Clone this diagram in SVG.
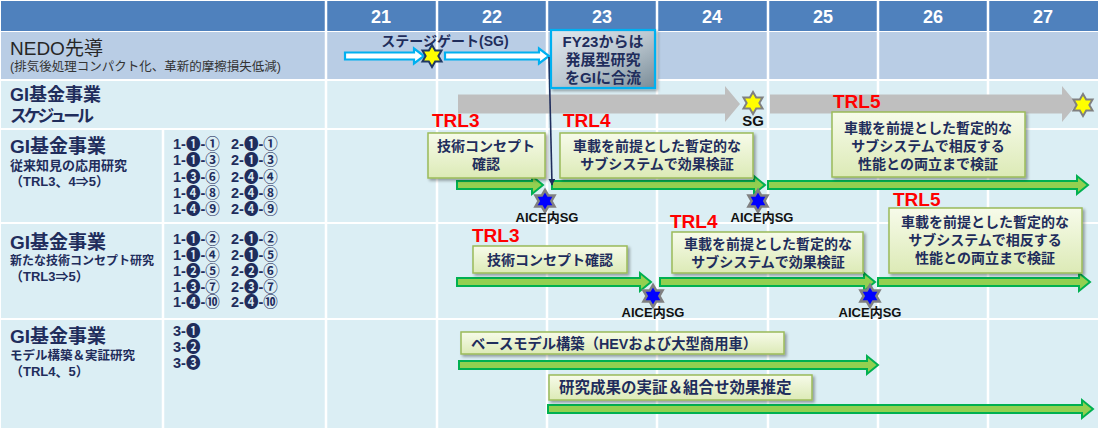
<svg xmlns="http://www.w3.org/2000/svg" xmlns:xlink="http://www.w3.org/1999/xlink" width="1099" height="429" viewBox="0 0 1099 429">
<style>
.jp{font-family:'Liberation Sans','Noto Sans CJK JP',sans-serif}
.hdr{font-family:'Liberation Sans',sans-serif;font-weight:bold;font-size:18px;fill:#fff;text-anchor:middle}
.nv{fill:#1F2D5C;font-weight:bold}
.trl{font-family:'Liberation Sans',sans-serif;font-weight:bold;font-size:19px;fill:#FF0000}
.gbox{fill:url(#gg);stroke:#9BBB59;stroke-width:1.5;filter:url(#sh)}
.bt{font-family:'Liberation Sans','Noto Sans CJK JP',sans-serif;font-weight:bold;font-size:14px;fill:#1F2D5C;text-anchor:middle}
.bl{font-family:'Liberation Sans','Noto Sans CJK JP',sans-serif;font-weight:bold;fill:#1F2D5C}
.garrow{fill:#92D050;stroke:#00B050;stroke-width:2}
.barrow{fill:#fff;stroke:#00B0F0;stroke-width:2.2}
.grey{fill:#BFBFBF}
.aice{font-family:'Liberation Sans','Noto Sans CJK JP',sans-serif;font-weight:bold;font-size:13px;fill:#111;text-anchor:middle}
.ys{fill:#FFFF00;stroke:#808080;stroke-width:2}
.bs{fill:#0000FF;stroke:#808080;stroke-width:2.5}
.code{font-family:'Liberation Sans','Noto Sans CJK JP',sans-serif;font-weight:bold;font-size:14.5px;fill:#1F2D5C}
.grid{stroke:#fff;stroke-width:2.5}
</style>
<defs>
<path id="star" d="M0,-11 L3.18,-5.5 L9.53,-5.5 L6.35,0 L9.53,5.5 L3.18,5.5 L0,11 L-3.18,5.5 L-9.53,5.5 L-6.35,0 L-9.53,-5.5 L-3.18,-5.5 Z"/>
<linearGradient id="gg" x1="0" y1="0" x2="0" y2="1">
<stop offset="0" stop-color="#F7FBEA"/>
<stop offset="1" stop-color="#DCEAB6"/>
</linearGradient>
<linearGradient id="fy" x1="0" y1="0" x2="1" y2="1">
<stop offset="0" stop-color="#E2EAF0"/>
<stop offset="0.5" stop-color="#BCC8D1"/>
<stop offset="1" stop-color="#7A8C97"/>
</linearGradient>
<filter id="sh" x="-10%" y="-20%" width="130%" height="160%">
<feDropShadow dx="2" dy="2" stdDeviation="1.5" flood-color="#000" flood-opacity="0.35"/>
</filter>
<marker id="ah" viewBox="0 0 10 10" refX="9" refY="5" markerWidth="7" markerHeight="7" orient="auto" markerUnits="userSpaceOnUse">
<path d="M0,0 L10,5 L0,10 Z" fill="#1F2D5C"/>
</marker>
</defs>

<g id="table">
<rect x="0" y="0" width="1099" height="429" fill="#fff"/>
<rect x="1" y="1" width="1097" height="30" fill="#4F81BD"/>
<rect x="1" y="32" width="1097" height="47" fill="#B9CDE5"/>
<rect x="1" y="81" width="1097" height="47" fill="#DBEEF4"/>
<rect x="1" y="130" width="1097" height="92" fill="#DBEEF4"/>
<rect x="1" y="224" width="1097" height="94" fill="#DBEEF4"/>
<rect x="1" y="320" width="1097" height="108" fill="#DBEEF4"/>
<g class="grid">
<line x1="326" y1="0" x2="326" y2="429"/>
<line x1="437" y1="0" x2="437" y2="429"/>
<line x1="547" y1="0" x2="547" y2="429"/>
<line x1="657" y1="0" x2="657" y2="429"/>
<line x1="768" y1="0" x2="768" y2="429"/>
<line x1="878" y1="0" x2="878" y2="429"/>
<line x1="988" y1="0" x2="988" y2="429"/>
<line x1="163" y1="129" x2="163" y2="429"/>
</g>
<text class="hdr" x="381" y="23">21</text>
<text class="hdr" x="492" y="23">22</text>
<text class="hdr" x="602" y="23">23</text>
<text class="hdr" x="712" y="23">24</text>
<text class="hdr" x="823" y="23">25</text>
<text class="hdr" x="933" y="23">26</text>
<text class="hdr" x="1043" y="23">27</text>
</g>

<g id="row-labels">
<text class="jp" x="10" y="55" font-size="19" fill="#262626">NEDO先導</text>
<text class="jp" x="10" y="71" font-size="12.5" fill="#333">(排気後処理コンパクト化、革新的摩擦損失低減)</text>
<text class="jp nv" x="10" y="101" font-size="18">GI基金事業</text>
<text class="jp nv" x="10" y="122" font-size="17" textLength="84" lengthAdjust="spacing">スケジュール</text>
<text class="jp nv" x="10" y="153" font-size="19">GI基金事業</text>
<text class="jp nv" x="10" y="170" font-size="13">従来知見の応用研究</text>
<text class="jp nv" x="10" y="186" font-size="13">（TRL3、4⇒5）</text>
<text class="jp nv" x="10" y="249" font-size="19">GI基金事業</text>
<text class="jp nv" x="10" y="265" font-size="12">新たな技術コンセプト研究</text>
<text class="jp nv" x="10" y="281" font-size="13">（TRL3⇒5）</text>
<text class="jp nv" x="10" y="343" font-size="19">GI基金事業</text>
<text class="jp nv" x="10" y="360" font-size="12.5">モデル構築＆実証研究</text>
<text class="jp nv" x="10" y="376" font-size="13">（TRL4、5）</text>
</g>

<g id="codes">
<text class="code"><tspan x="173" y="149">1-❶-①</tspan><tspan x="231" y="149">2-❶-①</tspan></text>
<text class="code"><tspan x="173" y="165">1-❶-③</tspan><tspan x="231" y="165">2-❶-③</tspan></text>
<text class="code"><tspan x="173" y="182">1-❸-⑥</tspan><tspan x="231" y="182">2-❹-④</tspan></text>
<text class="code"><tspan x="173" y="198">1-❹-⑧</tspan><tspan x="231" y="198">2-❹-⑧</tspan></text>
<text class="code"><tspan x="173" y="214">1-❹-⑨</tspan><tspan x="231" y="214">2-❹-⑨</tspan></text>
<text class="code"><tspan x="173" y="244">1-❶-②</tspan><tspan x="231" y="244">2-❶-②</tspan></text>
<text class="code"><tspan x="173" y="260">1-❶-④</tspan><tspan x="231" y="260">2-❶-⑤</tspan></text>
<text class="code"><tspan x="173" y="276">1-❷-⑤</tspan><tspan x="231" y="276">2-❷-⑥</tspan></text>
<text class="code"><tspan x="173" y="292">1-❸-⑦</tspan><tspan x="231" y="292">2-❸-⑦</tspan></text>
<text class="code"><tspan x="173" y="307">1-❹-⑩</tspan><tspan x="231" y="307">2-❹-⑩</tspan></text>
<text class="code" x="173" y="336">3-❶</text>
<text class="code" x="173" y="352">3-❷</text>
<text class="code" x="173" y="368">3-❸</text>
</g>

<g id="connectors">
<path class="barrow" d="M345,52.5 H414 V48.5 L424,56 L414,63.5 V59.5 H345 Z"/>
<path class="barrow" d="M445,52.5 H539 V48.5 L549,56 L539,63.5 V59.5 H445 Z"/>
<path class="grey" d="M458,94.5 H725 V86 L740,104 L725,122 V113.5 H458 Z"/>
<path class="grey" d="M770,94.5 H1062 V86 L1077,104 L1062,122 V113.5 H770 Z"/>
<path class="garrow" d="M457,181 H532 V176 L543,185 L532,194 V189 H457 Z"/>
<path class="garrow" d="M552,181 H754 V176 L765,185 L754,194 V189 H552 Z"/>
<path class="garrow" d="M768,181 H1077 V176 L1088,185 L1077,194 V189 H768 Z"/>
<path class="garrow" d="M457,278 H640 V273 L651,282 L640,291 V286 H457 Z"/>
<path class="garrow" d="M660,278 H864 V273 L875,282 L864,291 V286 H660 Z"/>
<path class="garrow" d="M878,278 H1079 V273 L1090,282 L1079,291 V286 H878 Z"/>
<path class="garrow" d="M459,361 H867 V356 L878,365 L867,374 V369 H459 Z"/>
<path class="garrow" d="M548,405 H1082 V400 L1093,409 L1082,418 V413 H548 Z"/>
<line x1="549" y1="57" x2="552" y2="185" stroke="#1F2D5C" stroke-width="1.6" marker-end="url(#ah)"/>
</g>

<g id="nedo-sg">
<text class="jp nv" x="445" y="46" font-size="14" text-anchor="middle">ステージゲート(SG)</text>
<use href="#star" x="432" y="56" fill="#FFFF00" stroke="#1F3864" stroke-width="2"/>
</g>

<g id="fy23-note">
<rect x="551" y="30" width="104" height="58" fill="url(#fy)" stroke="#00B0F0" stroke-width="2.2" filter="url(#sh)"/>
<text class="jp nv" x="603" y="47" font-size="15" text-anchor="middle">FY23からは</text>
<text class="jp nv" x="603" y="65" font-size="15" text-anchor="middle">発展型研究</text>
<text class="jp nv" x="603" y="83" font-size="15" text-anchor="middle">をGIに合流</text>
</g>

<g id="schedule-sg">
<use href="#star" x="753" y="103" class="ys"/>
<text class="jp" x="753" y="126" font-size="15" font-weight="bold" fill="#111" text-anchor="middle">SG</text>
<use href="#star" x="1083" y="105" class="ys"/>
</g>

<g id="r3-trl3">
<text class="trl" x="432" y="127">TRL3</text>
<rect class="gbox" x="428" y="133" width="117" height="45"/>
<text class="bt" x="486" y="151">技術コンセプト</text>
<text class="bt" x="486" y="169">確認</text>
</g>
<g id="r3-trl4">
<text class="trl" x="563" y="127">TRL4</text>
<rect class="gbox" x="560" y="133" width="193" height="45"/>
<text class="bt" x="657" y="151">車載を前提とした暫定的な</text>
<text class="bt" x="657" y="169">サブシステムで効果検証</text>
</g>
<g id="r3-trl5">
<text class="trl" x="833" y="108">TRL5</text>
<rect class="gbox" x="832" y="112" width="193" height="65"/>
<text class="bt" x="928" y="133">車載を前提とした暫定的な</text>
<text class="bt" x="928" y="151">サブシステムで相反する</text>
<text class="bt" x="928" y="169">性能との両立まで検証</text>
</g>
<g id="r3-sg">
<use href="#star" x="545" y="201" class="bs"/>
<text class="aice" x="547" y="222">AICE内SG</text>
<use href="#star" x="758" y="201" class="bs"/>
<text class="aice" x="762" y="222">AICE内SG</text>
</g>

<g id="r4-trl3">
<text class="trl" x="472" y="242">TRL3</text>
<rect class="gbox" x="473" y="246" width="154" height="27"/>
<text class="bt" x="550" y="265">技術コンセプト確認</text>
</g>
<g id="r4-trl4">
<text class="trl" x="670" y="228">TRL4</text>
<rect class="gbox" x="672" y="232" width="191" height="41"/>
<text class="bt" x="768" y="249">車載を前提とした暫定的な</text>
<text class="bt" x="768" y="267">サブシステムで効果検証</text>
</g>
<g id="r4-trl5">
<text class="trl" x="893" y="206">TRL5</text>
<rect class="gbox" x="889" y="208" width="193" height="65"/>
<text class="bt" x="985" y="227">車載を前提とした暫定的な</text>
<text class="bt" x="985" y="245">サブシステムで相反する</text>
<text class="bt" x="985" y="263">性能との両立まで検証</text>
</g>
<g id="r4-sg">
<use href="#star" x="653" y="296" class="bs"/>
<text class="aice" x="653" y="317">AICE内SG</text>
<use href="#star" x="870" y="296" class="bs"/>
<text class="aice" x="870" y="317">AICE内SG</text>
</g>

<g id="r5-base">
<rect class="gbox" x="461" y="332" width="323" height="22"/>
<text class="bl" x="471" y="349" font-size="14.3">ベースモデル構築（HEVおよび大型商用車）</text>
</g>
<g id="r5-verify">
<rect class="gbox" x="549" y="375" width="263" height="25"/>
<text class="bl" x="559" y="393" font-size="15.5">研究成果の実証＆組合せ効果推定</text>
</g>
</svg>
